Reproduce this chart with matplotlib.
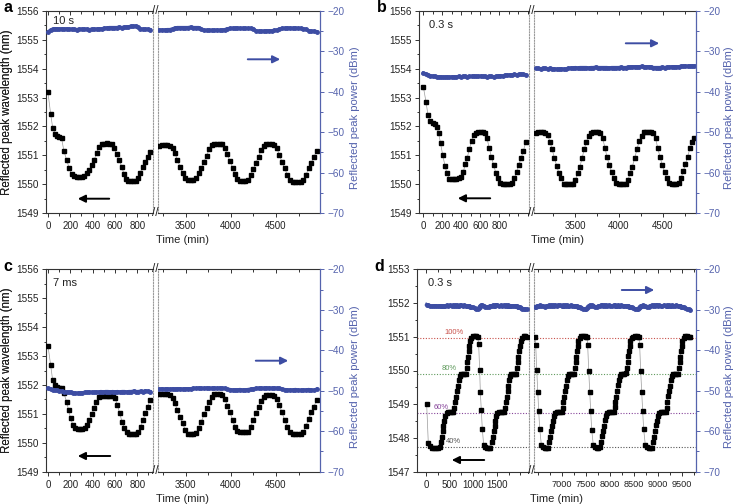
import matplotlib.pyplot as plt
from matplotlib.patches import FancyArrowPatch
from matplotlib.ticker import MultipleLocator, FixedLocator

plt.rcParams['font.family'] = ['Liberation Sans', 'DejaVu Sans']

W, H = 736, 504
BLUE = '#3d4da3'
AXBLUE = '#5563ad'
GREY = '#333333'

# ---------------- panel a (10 s) ----------------
a_t_left = [0, 24, 42, 63, 84, 100, 122, 143, 167, 191,
            212, 233, 257, 281, 305, 326, 347, 371, 392, 413,
            437, 457, 481, 502, 526, 550, 571, 592, 616, 637,
            661, 682, 700, 721, 741, 765, 786, 807, 828, 849,
            873, 894, 915]
a_wl_left = [1553.18, 1552.44, 1551.96, 1551.75, 1551.68, 1551.63, 1551.59, 1551.15, 1550.84, 1550.55,
             1550.34, 1550.28, 1550.26, 1550.26, 1550.26, 1550.28, 1550.37, 1550.49, 1550.66, 1550.84,
             1551.07, 1551.30, 1551.38, 1551.40, 1551.41, 1551.40, 1551.38, 1551.24, 1551.03, 1550.84,
             1550.61, 1550.34, 1550.18, 1550.12, 1550.11, 1550.11, 1550.12, 1550.20, 1550.40, 1550.61,
             1550.78, 1550.95, 1551.13]
a_pw_left = [-25.2, -24.7, -24.5, -24.4, -24.4, -24.5, -24.4, -24.5, -24.4, -24.5,
             -24.5, -24.5, -24.6, -24.5, -24.5, -24.5, -24.5, -24.6, -24.5, -24.5,
             -24.5, -24.4, -24.4, -24.3, -24.2, -24.1, -24.1, -24.1, -24.1, -24.0,
             -24.1, -24.0, -24.0, -23.9, -23.8, -23.8, -23.7, -24.0, -24.4, -24.5,
             -24.5, -24.5, -24.6]
ac_t_right = [3208, 3238, 3267, 3297, 3327, 3356, 3382, 3408, 3437, 3467,
              3496, 3526, 3555, 3585, 3614, 3644, 3673, 3703, 3732, 3762,
              3788, 3817, 3847, 3876, 3906, 3935, 3961, 3990, 4020, 4045,
              4071, 4101, 4130, 4160, 4190, 4219, 4249, 4278, 4308, 4334,
              4364, 4393, 4423, 4452, 4482, 4511, 4537, 4566, 4596, 4626,
              4655, 4684, 4714, 4744, 4773, 4803, 4832, 4862, 4891, 4921,
              4950]
a_wl_right = [1551.33, 1551.36, 1551.36, 1551.36, 1551.32, 1551.24, 1551.07, 1550.84, 1550.61, 1550.37,
              1550.20, 1550.14, 1550.14, 1550.15, 1550.20, 1550.37, 1550.57, 1550.78, 1550.99, 1551.22,
              1551.36, 1551.40, 1551.40, 1551.40, 1551.38, 1551.24, 1551.03, 1550.80, 1550.57, 1550.34,
              1550.18, 1550.12, 1550.12, 1550.12, 1550.15, 1550.32, 1550.52, 1550.75, 1550.95, 1551.18,
              1551.33, 1551.38, 1551.38, 1551.38, 1551.36, 1551.24, 1551.01, 1550.78, 1550.55, 1550.32,
              1550.14, 1550.09, 1550.09, 1550.09, 1550.09, 1550.14, 1550.32, 1550.55, 1550.75, 1550.95,
              1551.15]
a_pw_right = [-24.7, -24.7, -24.7, -24.6, -24.6, -24.4, -24.2, -24.1, -24.1, -24.1,
              -24.1, -24.1, -24.0, -24.1, -24.1, -24.1, -24.5, -24.8, -24.8, -24.8,
              -24.8, -24.8, -24.7, -24.8, -24.7, -24.6, -24.4, -24.3, -24.3, -24.3,
              -24.2, -24.3, -24.3, -24.3, -24.3, -24.3, -24.4, -24.9, -25.0, -25.0,
              -25.0, -24.9, -24.9, -24.9, -24.8, -24.7, -24.5, -24.3, -24.3, -24.2,
              -24.2, -24.3, -24.2, -24.3, -24.3, -24.4, -24.5, -24.9, -25.0, -25.0,
              -25.1]

# ---------------- panel b (0.3 s) ----------------
b_t_left = [0, 28, 49, 70, 98, 123, 144, 161, 182, 204,
            228, 249, 274, 298, 323, 347, 372, 396, 421, 442,
            463, 484, 509, 530, 554, 579, 604, 628, 649, 670,
            695, 716, 740, 765, 786, 811, 835, 860, 884, 909,
            933, 958, 982, 1004, 1028, 1053, 1077]
b_wl_left = [1553.38, 1552.86, 1552.40, 1552.19, 1552.11, 1552.07, 1551.99, 1551.76, 1551.41, 1551.01,
             1550.64, 1550.37, 1550.18, 1550.17, 1550.17, 1550.17, 1550.20, 1550.26, 1550.43, 1550.69,
             1550.92, 1551.22, 1551.49, 1551.70, 1551.76, 1551.80, 1551.82, 1551.82, 1551.76, 1551.59,
             1551.24, 1550.95, 1550.66, 1550.37, 1550.20, 1550.03, 1550.00, 1550.00, 1550.00, 1550.00,
             1550.03, 1550.20, 1550.43, 1550.66, 1550.89, 1551.15, 1551.45]
b_pw_left = [-35.4, -35.6, -35.8, -36.0, -36.1, -36.2, -36.3, -36.3, -36.3, -36.4,
             -36.4, -36.3, -36.4, -36.3, -36.3, -36.3, -36.2, -36.3, -36.2, -36.2,
             -36.3, -36.2, -36.2, -36.1, -36.2, -36.2, -36.1, -36.2, -36.2, -36.3,
             -36.2, -36.2, -36.3, -36.2, -36.1, -36.0, -36.1, -35.9, -35.9, -35.8,
             -35.8, -35.7, -35.8, -35.7, -35.6, -35.7, -35.8]
b_t_right = [3050, 3077, 3103, 3130, 3157, 3183, 3210, 3233, 3260, 3286,
             3313, 3340, 3367, 3393, 3420, 3447, 3473, 3500, 3527, 3553,
             3576, 3603, 3626, 3653, 3679, 3706, 3733, 3759, 3786, 3813,
             3839, 3862, 3889, 3916, 3942, 3969, 3996, 4023, 4049, 4076,
             4103, 4125, 4152, 4179, 4206, 4232, 4259, 4286, 4312, 4339,
             4366, 4392, 4419, 4442, 4469, 4495, 4522, 4549, 4576, 4602,
             4629, 4655, 4682, 4709, 4736, 4759, 4785, 4812, 4838, 4862]
b_wl_right = [1551.78, 1551.80, 1551.80, 1551.80, 1551.78, 1551.70, 1551.47, 1551.22, 1550.92, 1550.64,
              1550.37, 1550.20, 1550.02, 1549.99, 1549.99, 1549.99, 1550.02, 1550.14, 1550.37, 1550.61,
              1550.89, 1551.22, 1551.47, 1551.68, 1551.77, 1551.81, 1551.81, 1551.81, 1551.77, 1551.59,
              1551.26, 1550.95, 1550.66, 1550.41, 1550.20, 1550.03, 1550.00, 1550.00, 1550.00, 1550.02,
              1550.14, 1550.37, 1550.61, 1550.89, 1551.22, 1551.49, 1551.68, 1551.80, 1551.81, 1551.81,
              1551.81, 1551.77, 1551.59, 1551.26, 1550.95, 1550.66, 1550.41, 1550.20, 1550.03, 1550.02,
              1550.02, 1550.02, 1550.03, 1550.20, 1550.45, 1550.69, 1550.95, 1551.24, 1551.45, 1551.60]
b_pw_right = [-34.2, -34.2, -34.3, -34.2, -34.2, -34.3, -34.2, -34.3, -34.3, -34.4,
              -34.4, -34.3, -34.4, -34.4, -34.2, -34.1, -34.1, -34.0, -34.1, -34.0,
              -34.0, -34.0, -34.0, -34.1, -34.0, -34.0, -33.9, -34.0, -34.0, -34.0,
              -34.0, -34.0, -34.1, -34.0, -34.0, -34.0, -34.0, -33.9, -34.0, -34.0,
              -33.9, -33.9, -33.8, -33.8, -33.8, -33.8, -33.7, -33.8, -33.8, -33.8,
              -33.8, -34.0, -34.0, -34.0, -34.0, -33.9, -34.0, -33.9, -33.9, -33.8,
              -33.8, -33.8, -33.8, -33.7, -33.7, -33.6, -33.7, -33.6, -33.6, -33.6]

# ---------------- panel c (7 ms) ----------------
c_t_left = [0, 24, 42, 63, 84, 102, 123, 143, 167, 185,
            203, 224, 245, 266, 287, 308, 329, 350, 371, 392,
            413, 433, 454, 475, 496, 517, 538, 559, 580, 601,
            622, 643, 664, 685, 706, 726, 747, 768, 789, 810,
            831, 852, 873, 894, 915]
c_wl_left = [1553.36, 1552.69, 1552.17, 1552.00, 1551.94, 1551.91, 1551.88, 1551.71, 1551.42, 1551.13,
             1550.84, 1550.61, 1550.50, 1550.48, 1550.48, 1550.48, 1550.50, 1550.61, 1550.79, 1550.98,
             1551.19, 1551.42, 1551.59, 1551.63, 1551.63, 1551.63, 1551.63, 1551.63, 1551.63, 1551.54,
             1551.31, 1551.02, 1550.73, 1550.50, 1550.36, 1550.31, 1550.31, 1550.31, 1550.31, 1550.36,
             1550.56, 1550.79, 1551.02, 1551.25, 1551.48]
c_pw_left = [-49.4, -49.6, -49.7, -49.8, -49.9, -50.0, -50.1, -50.2, -50.3, -50.3,
             -50.4, -50.5, -50.6, -50.6, -50.5, -50.5, -50.4, -50.4, -50.3, -50.4,
             -50.4, -50.3, -50.3, -50.2, -50.3, -50.2, -50.2, -50.3, -50.2, -50.3,
             -50.2, -50.3, -50.2, -50.2, -50.3, -50.2, -50.2, -50.1, -50.2, -50.2,
             -50.1, -50.2, -50.0, -50.1, -50.2]
c_wl_right = [1551.67, 1551.67, 1551.67, 1551.67, 1551.65, 1551.56, 1551.36, 1551.13, 1550.90, 1550.67,
              1550.44, 1550.32, 1550.32, 1550.32, 1550.35, 1550.50, 1550.73, 1550.98, 1551.21, 1551.42,
              1551.59, 1551.67, 1551.67, 1551.67, 1551.65, 1551.51, 1551.28, 1551.05, 1550.79, 1550.56,
              1550.41, 1550.36, 1550.36, 1550.36, 1550.38, 1550.56, 1550.79, 1551.02, 1551.25, 1551.45,
              1551.59, 1551.65, 1551.65, 1551.65, 1551.63, 1551.51, 1551.31, 1551.05, 1550.79, 1550.56,
              1550.38, 1550.32, 1550.32, 1550.32, 1550.32, 1550.38, 1550.59, 1550.82, 1551.05, 1551.25,
              1551.48]
c_pw_right = [-49.6, -49.5, -49.6, -49.5, -49.6, -49.5, -49.6, -49.5, -49.5, -49.6,
              -49.5, -49.5, -49.5, -49.4, -49.4, -49.3, -49.4, -49.4, -49.3, -49.4,
              -49.4, -49.3, -49.4, -49.3, -49.4, -49.4, -49.6, -49.7, -49.8, -49.8,
              -49.8, -49.7, -49.8, -49.8, -49.7, -49.6, -49.5, -49.4, -49.4, -49.3,
              -49.4, -49.3, -49.3, -49.4, -49.3, -49.4, -49.4, -49.6, -49.7, -49.8,
              -49.8, -49.8, -49.7, -49.8, -49.9, -49.8, -49.8, -49.7, -49.8, -49.9,
              -49.6]

# ---------------- panel d (0.3 s, stepped) ----------------
d_t_left = [14, 49, 85, 127, 169, 212, 254, 290,
            311, 332, 353, 367, 388, 410,
            438, 473, 508, 544, 579,
            600, 621, 636, 657, 678, 699, 720,
            742, 777, 812, 847,
            862, 876, 890, 904, 918, 932,
            960, 996, 1031, 1066, 1095,
            1116, 1137, 1151, 1172, 1193,
            1222, 1257, 1292, 1328, 1363,
            1398, 1419, 1434, 1455, 1469, 1490,
            1511, 1547, 1582, 1617, 1653,
            1681, 1695, 1709, 1730, 1744, 1766, 1780,
            1808, 1843, 1878, 1907,
            1928, 1942, 1956, 1970, 1984, 2006,
            2034, 2069, 2104, 2133]
d_wl_left = [1549.01, 1547.84, 1547.77, 1547.71, 1547.71, 1547.71, 1547.71, 1547.72,
             1547.89, 1548.04, 1548.21, 1548.36, 1548.51, 1548.65,
             1548.74, 1548.76, 1548.76, 1548.76, 1548.76,
             1548.90, 1549.06, 1549.22, 1549.39, 1549.55, 1549.72, 1549.85,
             1549.90, 1549.91, 1549.91, 1549.91,
             1550.06, 1550.24, 1550.41, 1550.58, 1550.74, 1550.87,
             1550.97, 1551.01, 1551.01, 1551.01, 1551.00,
             1550.78, 1550.01, 1549.37, 1548.82, 1548.27,
             1547.79, 1547.72, 1547.71, 1547.71, 1547.71,
             1547.89, 1548.04, 1548.21, 1548.36, 1548.51, 1548.66,
             1548.74, 1548.76, 1548.76, 1548.76, 1548.76,
             1548.90, 1549.06, 1549.22, 1549.39, 1549.55, 1549.72, 1549.85,
             1549.90, 1549.91, 1549.91, 1549.91,
             1550.06, 1550.24, 1550.41, 1550.58, 1550.74, 1550.87,
             1550.97, 1551.01, 1551.01, 1550.99]
d_pw_left = [-28.7, -28.9, -29.0, -29.1, -29.0, -29.0, -29.1, -29.0,
             -29.0, -29.0, -29.1, -29.0, -29.0, -29.0,
             -28.9, -29.0, -28.9, -29.0, -28.9,
             -29.0, -28.9, -29.0, -28.9, -29.0, -29.0, -28.9,
             -28.9, -29.0, -28.9, -29.0,
             -29.0, -29.1, -29.0, -29.1, -29.1, -29.2,
             -29.3, -29.4, -29.6, -29.9, -29.8,
             -29.5, -29.2, -29.0, -28.9, -28.9,
             -29.0, -29.2, -29.4, -29.2, -29.0,
             -29.0, -28.9, -29.0, -28.9, -29.0, -28.9,
             -28.9, -29.0, -28.9, -29.0, -28.9,
             -29.0, -28.9, -29.0, -29.0, -28.9, -29.0, -29.0,
             -29.0, -29.0, -29.1, -29.0,
             -29.1, -29.2, -29.2, -29.3, -29.4, -29.5,
             -29.7, -29.8, -29.9, -29.9]
d_t_right = [6438, 6452, 6473, 6494, 6514, 6535, 6570, 6605, 6639, 6674,
             6709, 6737, 6757, 6771, 6792, 6806, 6827, 6855, 6889, 6924,
             6959, 6994, 7014, 7028, 7042, 7063, 7077, 7098, 7119, 7146,
             7181, 7216, 7251, 7271, 7285, 7299, 7313, 7327, 7341, 7369,
             7403, 7438, 7473, 7501,
             7521, 7535, 7556, 7577, 7597, 7618, 7653, 7688, 7722, 7757,
             7792, 7820, 7840, 7854, 7875, 7889, 7910, 7938, 7972, 8007,
             8042, 8077, 8097, 8111, 8125, 8146, 8160, 8181, 8202, 8229,
             8264, 8299, 8334, 8354, 8368, 8382, 8396, 8410, 8424, 8452,
             8486, 8521, 8556, 8584,
             8604, 8618, 8639, 8660, 8680, 8701, 8736, 8771, 8805, 8840,
             8875, 8903, 8923, 8937, 8958, 8972, 8993, 9021, 9055, 9090,
             9125, 9160, 9180, 9194, 9208, 9229, 9243, 9264, 9285, 9312,
             9347, 9382, 9417, 9437, 9451, 9465, 9479, 9493, 9507, 9535,
             9569, 9604, 9639, 9667]
d_wl_right = [1550.99, 1550.76, 1550.01, 1549.37, 1548.80, 1548.27, 1547.79, 1547.72, 1547.71, 1547.71,
              1547.71, 1547.89, 1548.04, 1548.21, 1548.36, 1548.51, 1548.66, 1548.74, 1548.76, 1548.76,
              1548.76, 1548.76, 1548.90, 1549.06, 1549.22, 1549.39, 1549.55, 1549.72, 1549.85, 1549.90,
              1549.91, 1549.91, 1549.91, 1550.06, 1550.24, 1550.41, 1550.58, 1550.74, 1550.87, 1550.97,
              1551.01, 1551.01, 1551.01, 1551.00,
              1550.98, 1550.75, 1550.00, 1549.35, 1548.80, 1548.25, 1547.78, 1547.72, 1547.71, 1547.71,
              1547.72, 1547.88, 1548.05, 1548.22, 1548.36, 1548.52, 1548.66, 1548.74, 1548.76, 1548.76,
              1548.76, 1548.77, 1548.91, 1549.07, 1549.22, 1549.38, 1549.56, 1549.72, 1549.84, 1549.90,
              1549.91, 1549.91, 1549.92, 1550.07, 1550.24, 1550.42, 1550.58, 1550.73, 1550.88, 1550.97,
              1551.00, 1551.01, 1551.01, 1551.00,
              1550.98, 1550.76, 1549.99, 1549.36, 1548.81, 1548.26, 1547.79, 1547.72, 1547.71, 1547.71,
              1547.71, 1547.89, 1548.04, 1548.21, 1548.37, 1548.51, 1548.65, 1548.74, 1548.76, 1548.76,
              1548.76, 1548.76, 1548.90, 1549.06, 1549.23, 1549.39, 1549.55, 1549.71, 1549.85, 1549.90,
              1549.91, 1549.91, 1549.91, 1550.06, 1550.25, 1550.41, 1550.58, 1550.74, 1550.86, 1550.97,
              1551.01, 1551.01, 1551.00, 1550.99]
d_pw_right = [-29.3, -29.2, -29.1, -29.0, -29.0, -28.9, -29.0, -29.1, -29.2, -29.1,
              -29.0, -28.9, -29.0, -28.9, -29.0, -28.9, -29.0, -28.9, -29.0, -28.9,
              -28.9, -29.0, -28.9, -29.0, -29.0, -28.9, -29.0, -28.9, -29.0, -29.0,
              -28.9, -29.0, -29.0, -29.0, -29.1, -29.0, -29.1, -29.2, -29.2, -29.3,
              -29.5, -29.7, -29.9, -29.8,
              -29.5, -29.2, -29.0, -28.9, -29.0, -28.9, -29.0, -29.2, -29.3, -29.1,
              -29.0, -28.9, -28.9, -29.0, -28.9, -29.0, -28.9, -29.0, -28.9, -29.0,
              -29.0, -28.9, -29.0, -28.9, -29.0, -29.0, -28.9, -29.0, -29.0, -28.9,
              -29.0, -29.0, -29.1, -29.0, -29.1, -29.1, -29.2, -29.2, -29.3, -29.4,
              -29.6, -29.8, -29.9, -29.7,
              -29.5, -29.2, -29.0, -29.0, -28.9, -29.0, -29.1, -29.2, -29.2, -29.0,
              -28.9, -29.0, -28.9, -29.0, -28.9, -28.9, -29.0, -28.9, -29.0, -29.0,
              -28.9, -29.0, -29.0, -28.9, -29.0, -28.9, -29.0, -29.0, -28.9, -29.0,
              -29.0, -28.9, -29.0, -29.1, -29.0, -29.1, -29.2, -29.2, -29.3, -29.4,
              -29.6, -29.8, -29.9, -30.0]

d_levels = [1550.97, 1549.89, 1548.74, 1547.72]
d_level_names = ['100%', '80%', '60%', '40%']
d_level_colors = ['#c8504a', '#5f9a5c', '#86449a', '#555555']
d_level_text_t = [590, 500, 320, 590]

fig = plt.figure(figsize=(7.36, 5.04), dpi=100)


def px_box(x0, x1, y0, y1):
    return [x0 / W, 1 - y1 / H, (x1 - x0) / W, (y1 - y0) / H]


def fxy(x, y):
    return (x / W, 1 - y / H)


def draw_panel(geom, left, right, ylim, letter, note, note_xy, black_arrow, blue_arrow):
    L, B1, B2, R, T, Bt = geom
    axl = fig.add_axes(px_box(L, B1, T, Bt))
    axr = fig.add_axes(px_box(B2, R, T, Bt))
    pairs = []
    for ax, seg, side in ((axl, left, 'l'), (axr, right, 'r')):
        t, wl, pw, xlim, ticks, minor = seg
        tw = ax.twinx()
        ax.plot(t, wl, color='#9a9a9a', lw=0.5, marker='s', ms=3.3,
                mfc='black', mec='black', zorder=3)
        tw.plot(t, pw, color=BLUE, lw=2.4, marker='o', ms=2.5,
                mfc=BLUE, mec=BLUE, solid_joinstyle='round')
        ax.set_xlim(xlim)
        ax.set_ylim(ylim)
        tw.set_ylim(-70, -20)
        ax.xaxis.set_major_locator(FixedLocator(ticks))
        ax.xaxis.set_minor_locator(MultipleLocator(minor))
        ax.yaxis.set_major_locator(MultipleLocator(1))
        ax.yaxis.set_minor_locator(MultipleLocator(0.5))
        tw.yaxis.set_major_locator(MultipleLocator(10))
        tw.yaxis.set_minor_locator(MultipleLocator(5))
        ax.tick_params(axis='x', which='both', direction='out', top=False,
                       labelsize=7.0, pad=2.5, colors=GREY, labelcolor='#222')
        ax.tick_params(axis='both', which='major', length=3.2, width=0.7)
        ax.tick_params(axis='both', which='minor', length=1.8, width=0.7)
        tw.xaxis.set_visible(True)
        tw.tick_params(axis='x', which='both', direction='in', top=True, bottom=False,
                       labeltop=False, labelbottom=False, colors=GREY)
        tw.tick_params(axis='x', which='major', length=3.0, width=0.7)
        tw.tick_params(axis='x', which='minor', length=1.8, width=0.7)
        for sp in tw.spines.values():
            sp.set_visible(False)
        for name in ('top', 'bottom', 'left', 'right'):
            ax.spines[name].set_color(GREY)
            ax.spines[name].set_linewidth(0.8)
        if side == 'l':
            ax.tick_params(axis='y', which='both', direction='out', labelsize=7.2,
                           pad=2, colors=GREY, labelcolor='#222')
            ax.spines['right'].set_linestyle((0, (1, 1.5)))
            ax.spines['right'].set_color('#9a9a9a')
            tw.tick_params(axis='y', which='both', right=False, labelright=False)
        else:
            ax.tick_params(axis='y', which='both', left=False, labelleft=False)
            ax.spines['left'].set_linestyle((0, (1, 1.5)))
            ax.spines['left'].set_color('#9a9a9a')
            ax.spines['right'].set_visible(False)
            tw.spines['right'].set_visible(True)
            tw.spines['right'].set_color(AXBLUE)
            tw.spines['right'].set_linewidth(0.9)
            tw.tick_params(axis='y', which='both', direction='out', labelsize=7.2, pad=2,
                           colors=AXBLUE, labelcolor=AXBLUE)
            tw.tick_params(axis='y', which='major', length=3.2, width=0.7)
            tw.tick_params(axis='y', which='minor', length=1.8, width=0.7)
        pairs.append((ax, tw))

    fig.text(*fxy(7, (T + Bt) / 2), 'Reflected peak wavelength (nm)', fontsize=8.3,
             rotation=90, ha='center', va='center', color='#222')
    fig.text(*fxy(min(R + 35, 729.5), (T + Bt) / 2 + 6), 'Reflected peak power (dBm)',
             fontsize=8.1, rotation=90, ha='center', va='center', color=AXBLUE)

    mid = (B1 + B2) / 2
    for y in (T, Bt):
        fig.text(*fxy(mid, y - 0.5), '//', fontsize=8.5, ha='center', va='center', color='#222')
    fig.text(*fxy((L + R) / 2, Bt + 27), 'Time (min)', fontsize=8, ha='center', va='center',
             color='#222')
    fig.text(*fxy(L - 42, T - 3), letter, fontsize=11.5, fontweight='bold',
             ha='left', va='center')
    fig.text(*fxy(*note_xy), note, fontsize=8, ha='left', va='center', color='#222')
    for (tail, head), col in ((black_arrow, 'black'), (blue_arrow, BLUE)):
        fig.add_artist(FancyArrowPatch(
            fxy(*tail), fxy(*head), transform=fig.transFigure, arrowstyle='-|>',
            mutation_scale=11, lw=1.4, color=col))
    return axl, axr


A_GEOM = (45.5, 152.5, 157.5, 320.3, 11, 213)
B_GEOM = (419.3, 528.7, 534.0, 696, 11, 213)
C_GEOM = (45.5, 152.5, 157.5, 320.3, 269.3, 471.7)
D_GEOM = (416.7, 528.7, 533.7, 696, 269.3, 471.7)

draw_panel(A_GEOM,
           (a_t_left, a_wl_left, a_pw_left, (-22, 937), [0, 200, 400, 600, 800], 100),
           (ac_t_right, a_wl_right, a_pw_right, (3188, 4991), [3500, 4000, 4500], 250),
           (1549, 1556), 'a', '10 s', (53, 21),
           ((112, 198.7), (75, 198.7)), ((245, 59.3), (283, 59.3)))
draw_panel(B_GEOM,
           (b_t_left, b_wl_left, b_pw_left, (-42, 1109), [0, 200, 400, 600, 800], 100),
           (b_t_right, b_wl_right, b_pw_right, (3027, 4881), [3500, 4000, 4500], 250),
           (1549, 1556), 'b', '0.3 s', (429, 25),
           ((493, 198.3), (455, 198.3)), ((623, 43.3), (662, 43.3)))
draw_panel(C_GEOM,
           (c_t_left, c_wl_left, c_pw_left, (-22, 937), [0, 200, 400, 600, 800], 100),
           (ac_t_right, c_wl_right, c_pw_right, (3188, 4991), [3500, 4000, 4500], 250),
           (1549, 1556), 'c', '7 ms', (53, 283),
           ((113, 456), (75, 456)), ((253, 360.7), (291, 360.7)))
axl_d, axr_d = draw_panel(D_GEOM,
                          (d_t_left, d_wl_left, d_pw_left, (-197, 2176), [0, 500, 1000, 1500], 250),
                          (d_t_right, d_wl_right, d_pw_right, (6410, 9792),
                           [7000, 7500, 8000, 8500, 9000, 9500], 250),
                          (1547, 1553), 'd', '0.3 s', (428, 283),
                          ((487, 460), (449, 460)), ((619, 290), (657, 290)))
axr_d.tick_params(axis='x', labelsize=6.6)

for lev, name, col, tx in zip(d_levels, d_level_names, d_level_colors, d_level_text_t):
    for ax in (axl_d, axr_d):
        ax.axhline(lev, color=col, lw=0.8, ls=(0, (1, 1.5)), zorder=1)
    axl_d.text(tx, lev + 0.17, name, fontsize=5.5, color=col, ha='center', va='center')

fig.savefig('out.png', dpi=100)
